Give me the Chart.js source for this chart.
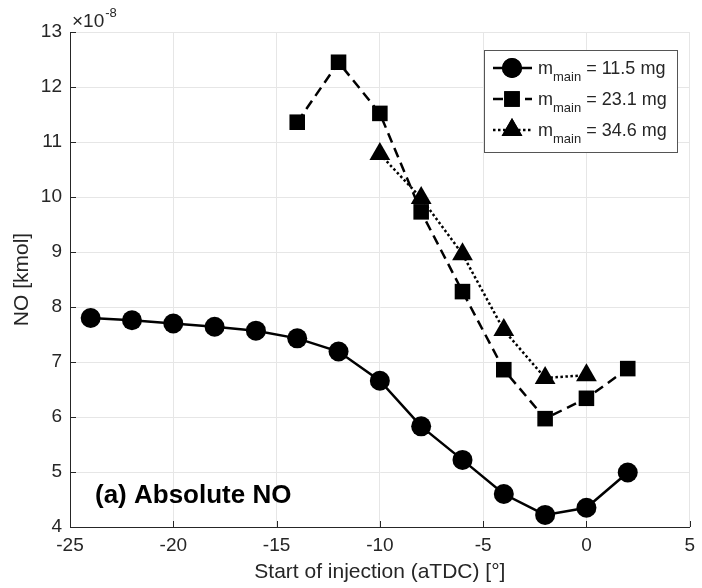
<!DOCTYPE html>
<html>
<head>
<meta charset="utf-8">
<script src="https://cdn.jsdelivr.net/npm/chart.js@4.4.1/dist/chart.umd.min.js"></script>
<style>
html, body { margin: 0; padding: 0; background: #fff; }
#wrap { width: 702px; height: 588px; position: relative; }
</style>
</head>
<body>
<div id="wrap"><canvas id="noChart"></canvas></div>
<script>
// NO vs start of injection, three main-injection masses (values x 1e-8 kmol)
var soi1 = [-24, -22, -20, -18, -16, -14, -12, -10, -8, -6, -4, -2, 0, 2];
var no1 = [7.80, 7.76, 7.70, 7.64, 7.57, 7.43, 7.19, 6.66, 5.83, 5.22, 4.60, 4.22, 4.35, 4.99];
var soi2 = [-14, -12, -10, -8, -6, -4, -2, 0, 2];
var no2 = [11.36, 12.45, 11.52, 9.73, 8.28, 6.86, 5.97, 6.34, 6.88];
var soi3 = [-10, -8, -6, -4, -2, 0];
var no3 = [10.78, 9.98, 8.96, 7.58, 6.71, 6.76];
var masses = ['11.5', '23.1', '34.6'];
var xTicks = [-25, -20, -15, -10, -5, 0, 5];
var yTicks = [4, 5, 6, 7, 8, 9, 10, 11, 12, 13];

var FONT = "'Liberation Sans', Arial, sans-serif";
var AXIS = '#262626';

function pts(xs, ys) {
    return xs.map(function (x, i) { return { x: x, y: ys[i] }; });
}

var styles = [
    { dash: [], point: 'circle', radius: 10 },
    { dash: [10, 6], point: 'rect', radius: 11 },
    { dash: [2.5, 2.5], point: 'triangle', radius: 12 }
];

var overlay = {
    id: 'overlay',
    afterDatasetsDraw: function (chart) {
        var ctx = chart.ctx;
        var a = chart.chartArea;
        var xs = chart.scales.x, ys = chart.scales.y;
        ctx.save();

        // inward ticks
        ctx.strokeStyle = AXIS;
        ctx.lineWidth = 1;
        ctx.beginPath();
        xTicks.forEach(function (t) {
            var px = Math.round(xs.getPixelForValue(t)) + 0.5;
            ctx.moveTo(px, a.bottom);
            ctx.lineTo(px, a.bottom - 6);
        });
        yTicks.forEach(function (t) {
            var py = Math.round(ys.getPixelForValue(t)) + 0.5;
            ctx.moveTo(a.left, py);
            ctx.lineTo(a.left + 6, py);
        });
        ctx.stroke();

        // exponent label
        ctx.fillStyle = AXIS;
        ctx.textBaseline = 'alphabetic';
        ctx.textAlign = 'left';
        ctx.font = '19px ' + FONT;
        ctx.fillText('\u00d710', a.left + 2, a.top - 5);
        var w = ctx.measureText('\u00d710').width;
        ctx.font = '13px ' + FONT;
        ctx.fillText('-8', a.left + 2 + w + 1, a.top - 15);

        // panel label
        ctx.fillStyle = '#000';
        ctx.font = 'bold 26px ' + FONT;
        ctx.fillText('(a) Absolute NO', 95, 503);

        // legend
        var bx = 484, by = 50, bw = 193, bh = 102;
        ctx.fillStyle = '#fff';
        ctx.fillRect(bx, by, bw, bh);
        ctx.strokeStyle = '#555';
        ctx.lineWidth = 1;
        ctx.strokeRect(bx + 0.5, by + 0.5, bw, bh);
        for (var i = 0; i < 3; i++) {
            var ry = by + 18 + i * 31;
            var st = styles[i];
            ctx.strokeStyle = '#000';
            ctx.lineWidth = 2.5;
            ctx.setLineDash(st.dash);
            ctx.beginPath();
            ctx.moveTo(493, ry);
            ctx.lineTo(532, ry);
            ctx.stroke();
            ctx.setLineDash([]);
            ctx.fillStyle = '#000';
            Chart.helpers.drawPoint(ctx, { pointStyle: st.point, radius: st.radius, rotation: 0, borderWidth: 0 }, 512, ry);
            ctx.fill();
            ctx.fillStyle = AXIS;
            ctx.font = '18px ' + FONT;
            ctx.fillText('m', 538, ry + 6);
            var mw = ctx.measureText('m').width;
            ctx.font = '13px ' + FONT;
            ctx.fillText('main', 538 + mw, ry + 13);
            var sw = ctx.measureText('main').width;
            ctx.font = '18px ' + FONT;
            ctx.fillText(' = ' + masses[i] + ' mg', 538 + mw + sw, ry + 6);
        }
        ctx.restore();
    }
};

var ctx = document.getElementById('noChart').getContext('2d');
var myChart = new Chart(ctx, {
    type: 'line',
    data: {
        datasets: [pts(soi1, no1), pts(soi2, no2), pts(soi3, no3)].map(function (d, i) {
            return {
                label: 'm_main = ' + masses[i] + ' mg',
                data: d,
                borderColor: '#000',
                backgroundColor: '#000',
                borderWidth: 2.5,
                borderDash: styles[i].dash,
                pointStyle: styles[i].point,
                pointRadius: styles[i].radius,
                pointBorderWidth: 0,
                pointBackgroundColor: '#000',
                tension: 0,
                clip: false
            };
        })
    },
    options: {
        responsive: true,
        maintainAspectRatio: false,
        animation: false,
        layout: { padding: { top: 32, right: 8, left: 0, bottom: 0 } },
        plugins: {
            legend: { display: false },
            tooltip: { enabled: false }
        },
        scales: {
            x: {
                type: 'linear',
                min: -25,
                max: 5,
                afterBuildTicks: function (s) { s.ticks = xTicks.map(function (v) { return { value: v }; }); },
                afterFit: function (s) { s.height = 61; },
                grid: { color: '#e6e6e6', drawTicks: false, lineWidth: 1 },
                border: { color: AXIS, width: 1 },
                ticks: { color: AXIS, font: { family: FONT, size: 19 }, padding: 7 },
                title: { display: true, text: 'Start of injection (aTDC) [\u00b0]', color: AXIS, font: { family: FONT, size: 21 }, padding: { top: 0, bottom: 3 } }
            },
            y: {
                min: 4,
                max: 13,
                afterBuildTicks: function (s) { s.ticks = yTicks.map(function (v) { return { value: v }; }); },
                afterFit: function (s) { s.width = 70; },
                grid: { color: '#e6e6e6', drawTicks: false, lineWidth: 1 },
                border: { color: AXIS, width: 1 },
                ticks: { color: AXIS, font: { family: FONT, size: 19 }, padding: 8 },
                title: { display: true, text: 'NO [kmol]', color: AXIS, font: { family: FONT, size: 21 }, padding: { top: 10, bottom: 0 } }
            }
        }
    },
    plugins: [overlay]
});
</script>
</body>
</html>
